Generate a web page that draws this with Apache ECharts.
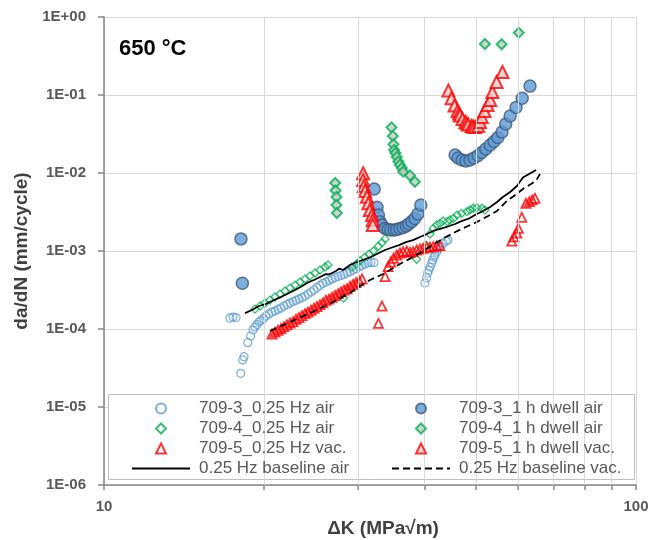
<!DOCTYPE html>
<html><head><meta charset="utf-8">
<script src="https://cdn.jsdelivr.net/npm/echarts@6/dist/echarts.min.js"></script>
<style>html,body{margin:0;padding:0;background:#fff}#c{width:652px;height:540px}</style>
</head><body><div id="c"></div>
<script>
const FONT = '"Liberation Sans", Arial, sans-serif';

// ---- data: [ΔK (MPa√m), da/dN (mm/cycle)] ----
const s709_3_air025 = [
  [17.25,1.38e-4],[17.48,1.42e-4],[17.71,1.40e-4],
  [18.07,2.70e-5],[18.23,4.01e-5],[18.33,4.42e-5],[18.63,6.67e-5],[18.87,8.13e-5],
  [19.06,9.71e-5],[19.22,1.06e-4],[19.39,1.14e-4],[19.56,1.23e-4],[19.73,1.29e-4],[19.95,1.36e-4],[20.16,1.47e-4],[20.43,1.56e-4],[20.69,1.65e-4],[20.96,1.70e-4],
  [21.23,1.78e-4],[21.51,1.86e-4],[21.79,1.97e-4],[22.08,2.06e-4],[22.37,2.15e-4],[22.66,2.25e-4],[22.96,2.33e-4],[23.26,2.42e-4],[23.56,2.53e-4],[23.87,2.65e-4],
  [24.18,2.81e-4],[24.50,2.98e-4],[24.82,3.16e-4],[25.14,3.40e-4],[25.47,3.61e-4],[25.80,3.85e-4],[26.14,4.00e-4],[26.48,4.19e-4],[26.83,4.38e-4],[27.18,4.57e-4],
  [27.54,4.71e-4],[27.90,4.85e-4],[28.26,5.00e-4],[28.63,5.22e-4],[29.01,5.43e-4],[29.39,5.71e-4],[29.77,5.96e-4],[30.16,6.24e-4],[30.55,6.52e-4],[30.95,6.81e-4],
  [31.36,7.02e-4],[31.76,7.12e-4],[32.18,7.08e-4],
  [40.1,3.89e-4],[40.4,4.51e-4],[40.6,5.22e-4],[40.8,5.70e-4],[41.0,6.23e-4],[41.3,7.02e-4],[41.5,7.67e-4],[41.7,8.37e-4],[41.9,8.89e-4],[42.2,9.71e-4],[42.45,1.06e-3],[42.8,1.135e-3],[43.4,1.25e-3],[43.96,1.34e-3],[44.3,1.38e-3]
];
const s709_3_dwell = [
  [18.09,1.43e-3],[18.2,3.85e-4],
  [32.2,6.24e-3],[32.6,3.63e-3],[32.8,2.89e-3],[33.0,2.38e-3],[33.3,2.16e-3],[33.75,1.95e-3],[34.2,1.89e-3],[34.6,1.86e-3],[35.1,1.86e-3],[35.5,1.89e-3],
  [36.0,1.94e-3],[36.5,2.00e-3],[37.0,2.09e-3],[37.4,2.22e-3],[37.9,2.39e-3],[38.4,2.61e-3],[38.9,2.98e-3],[39.4,3.89e-3],
  [45.7,1.70e-2],[46.3,1.56e-2],[47.1,1.47e-2],[47.9,1.43e-2],[48.75,1.47e-2],[49.6,1.56e-2],[50.5,1.68e-2],[51.3,1.83e-2],[52.2,2.03e-2],[53.2,2.29e-2],
  [54.1,2.54e-2],[55.0,2.85e-2],[56.0,3.36e-2],[56.9,4.25e-2],[58.0,5.38e-2],[59.5,6.92e-2],[61.1,9.08e-2],[63.2,1.30e-1]
];
const s709_4_air025 = [
  [19.22,1.80e-4],[19.65,1.97e-4],[20.07,2.15e-4],[20.51,2.35e-4],[20.96,2.57e-4],[21.42,2.81e-4],[21.89,3.07e-4],[22.37,3.35e-4],[22.86,3.66e-4],[23.36,4.00e-4],
  [23.87,4.38e-4],[24.39,4.78e-4],[24.93,5.22e-4],[25.47,5.71e-4],[26.03,6.24e-4],[26.37,6.61e-4],
  [28.2,2.5e-4],
  [29.25,6.23e-4],[29.8,6.8e-4],[30.3,7.5e-4],[30.9,8.3e-4],[31.5,9.1e-4],[32.1,1.0e-3],[32.8,1.15e-3],[33.3,1.28e-3],[33.75,1.43e-3],
  [38.7,7.83e-4],[40.3,1.19e-3],
  [41.0,1.65e-3],[41.6,1.95e-3],[42.2,2.16e-3],[42.8,2.26e-3],[43.4,2.43e-3],[44.2,2.38e-3],[44.7,2.50e-3],[45.4,2.62e-3],[46.1,2.89e-3],[47.0,3.04e-3],
  [48.1,3.19e-3],[48.75,3.36e-3],[49.45,3.53e-3],[50.2,3.59e-3],[51.3,3.53e-3],[52.0,3.36e-3]
];
const s709_4_dwell = [
  [27.2,7.45e-3],[27.25,5.97e-3],[27.35,4.92e-3],[27.35,3.89e-3],[27.4,3.07e-3],
  [34.7,3.85e-2],[34.9,2.98e-2],[35.0,2.33e-2],[35.1,1.97e-2],[35.3,1.80e-2],[35.5,1.60e-2],[35.75,1.40e-2],[36.0,1.27e-2],[36.3,1.16e-2],[36.5,1.04e-2],[37.6,9.29e-3],[38.4,7.73e-3],
  [52.0,0.451],[55.9,0.447],[60.2,0.629]
];
const s709_5_vac025 = [
  [20.69,8.63e-5],[20.96,9.10e-5],[21.23,9.62e-5],[21.51,1.015e-4],[21.79,1.07e-4],[22.08,1.13e-4],[22.37,1.19e-4],[22.66,1.24e-4],[22.96,1.33e-4],[23.26,1.40e-4],
  [23.56,1.48e-4],[23.87,1.57e-4],[24.18,1.65e-4],[24.50,1.74e-4],[24.82,1.84e-4],[25.14,1.94e-4],[25.47,2.05e-4],[25.80,2.17e-4],[26.14,2.33e-4],[26.48,2.41e-4],
  [26.83,2.55e-4],[27.18,2.69e-4],[27.54,2.84e-4],[27.90,3.00e-4],[28.26,3.16e-4],[28.63,3.28e-4],[29.01,3.53e-4],[29.39,3.72e-4],[29.77,3.92e-4],[30.16,4.15e-4],[30.55,4.38e-4],
  [32.8,1.18e-4],[33.3,1.97e-4],
  [33.75,4.69e-4],[34.2,6.29e-4],[34.6,7.2e-4],[35.0,8.06e-4],[35.5,8.89e-4],[36.0,9.42e-4],[36.5,9.8e-4],[37.07,1.0e-3],[37.6,9.6e-4],[38.1,9.8e-4],
  [38.7,1.03e-3],[39.26,1.06e-3],[39.8,1.08e-3],[40.4,1.11e-3],[41.0,1.12e-3],[41.6,1.135e-3],[42.2,1.16e-3],[42.8,1.17e-3],
  [58.4,1.34e-3],[59.0,1.52e-3],[59.7,1.69e-3],[60.1,1.95e-3],[61.0,2.70e-3],[62.1,4.09e-3],[63.0,4.29e-3],[63.8,4.51e-3],[64.6,4.74e-3]
];
const s709_5_dwell = [
  [30.7,9.91e-3],[30.7,8.13e-3],[30.8,6.81e-3],[30.95,5.87e-3],[31.2,4.96e-3],[31.4,4.09e-3],[31.6,3.36e-3],[31.9,2.89e-3],[32.0,2.50e-3],[32.0,2.16e-3],
  [44.4,0.114],[45.0,9.08e-2],[45.6,7.33e-2],[46.2,6.23e-2],[46.5,5.8e-2],[46.7,5.46e-2],[47.2,4.92e-2],[47.8,4.51e-2],[48.1,4.3e-2],[48.4,4.19e-2],[49.1,4.01e-2],[49.4,3.95e-2],
  [49.8,3.89e-2],[50.5,4.01e-2],[50.9,4.51e-2],[51.3,5.22e-2],[51.9,6.23e-2],[52.6,7.44e-2],[53.2,8.63e-2],[53.7,0.109],[54.7,0.147],[56.1,0.197]
];
const baselineAir = [
  [18.41,1.60e-4],[18.97,1.75e-4],[19.56,1.97e-4],[20.16,2.10e-4],[20.78,2.32e-4],[21.42,2.54e-4],[22.08,2.81e-4],[22.76,3.12e-4],[23.46,3.48e-4],[24.17,3.95e-4],
  [24.93,4.31e-4],[25.69,4.78e-4],[26.1,5.05e-4],[26.48,5.0e-4],[27.30,5.55e-4],[27.7,5.95e-4],[28.14,5.7e-4],[29.0,6.62e-4],[29.89,7.23e-4],[30.81,7.78e-4],
  [31.76,8.38e-4],[32.73,9.29e-4],[33.75,1.03e-3],[34.78,1.11e-3],[35.85,1.19e-3],[36.96,1.30e-3],[38.09,1.38e-3],[39.26,1.51e-3],[40.47,1.65e-3],[41.72,1.83e-3],
  [43.0,1.94e-3],[44.33,2.06e-3],[45.69,2.22e-3],[47.1,2.43e-3],[48.55,2.61e-3],[50.0,2.94e-3],[51.58,3.26e-3],[53.2,3.67e-3],[54.8,4.25e-3],[56.2,4.92e-3],
  [58.0,5.71e-3],[59.73,6.81e-3],[61.3,8.75e-3],[63.2,9.86e-3],[64.9,1.09e-2]
];
const baselineVac = [
  [20.51,9.42e-5],[22.37,1.23e-4],[24.39,1.60e-4],[26.59,2.12e-4],[29.0,2.90e-4],[29.89,3.36e-4],[31.62,4.25e-4],[33.46,5.07e-4],[36.0,6.81e-4],[38.09,8.38e-4],
  [40.3,1.05e-3],[42.3,1.30e-3],[44.1,1.53e-3],[46.1,1.80e-3],[48.1,2.06e-3],[50.2,2.35e-3],[52.5,2.77e-3],[54.8,3.26e-3],[57.2,4.38e-3],[59.3,5.23e-3],
  [61.3,6.24e-3],[63.5,7.23e-3],[64.9,8.01e-3],[66.0,9.71e-3]
];
const xGridValues = [20,30,40,50,60,70,80,90];
const xTickValues = [10,20,30,40,50,60,70,80,90,100];
const xLabelValues = [10,100];
const legendLeft = ['709-3_0.25 Hz air','709-4_0.25 Hz air','709-5_0.25 Hz vac.','0.25 Hz baseline air'];
const legendRight = ['709-3_1 h dwell air','709-4_1 h dwell air','709-5_1 h dwell vac.','0.25 Hz baseline vac.'];

const DIAMOND = 'path://M5,0 L10,5 L5,10 L0,5 Z';
const TRIANGLE = 'path://M5,0 L10,10 L0,10 Z';
const legendIcons = {
  '709-3_0.25 Hz air':{icon:'circle'},
  '709-3_1 h dwell air':{icon:'circle'},
  '709-4_0.25 Hz air':{icon:DIAMOND},
  '709-4_1 h dwell air':{icon:DIAMOND},
  '709-5_0.25 Hz vac.':{icon:TRIANGLE},
  '709-5_1 h dwell vac.':{icon:TRIANGLE},
  '0.25 Hz baseline air':{itemStyle:{color:'rgba(0,0,0,0)', borderColor:'rgba(0,0,0,0)', borderWidth:0}},
  '0.25 Hz baseline vac.':{itemStyle:{color:'rgba(0,0,0,0)', borderColor:'rgba(0,0,0,0)', borderWidth:0}}
};
function legendItems(names){
  return names.map(n => Object.assign({name:n}, legendIcons[n]));
}

const chart = echarts.init(document.getElementById('c'), null, {renderer:'canvas'});
const axisGray = '#868686';
const legendCommon = {
  orient:'vertical', top:395, itemWidth:58, itemHeight:10, itemGap:3, z:10,
  symbolKeepAspect:true,
  textStyle:{fontFamily:FONT, fontSize:17, color:'#595959', padding:[0,0,0,4]},
  selectedMode:false
};
chart.setOption({
  animation:false,
  backgroundColor:'#fff',
  textStyle:{fontFamily:FONT},
  title:{text:'650 °C', left:119, top:38, padding:0,
    textStyle:{fontFamily:FONT, fontSize:22, fontWeight:'bold', color:'#000'}},
  grid:{left:104, right:16, top:17, bottom:55, outerBoundsMode:'none', containLabel:false},
  xAxis:{type:'log', logBase:10, min:10, max:100,
    name:'ΔK (MPa√m)', nameLocation:'middle', nameGap:23,
    nameTextStyle:{fontFamily:FONT, fontSize:19, fontWeight:'bold', color:'#404040', padding:[0,0,0,26]},
    axisLine:{show:true, onZero:false, lineStyle:{color:axisGray, width:1.5}},
    axisTick:{show:true, length:5, customValues:xTickValues, lineStyle:{color:axisGray, width:1.5}},
    axisLabel:{customValues:xLabelValues, fontFamily:FONT, fontSize:15, fontWeight:'bold', color:'#595959', margin:14},
    splitLine:{show:true, lineStyle:{color:'#d9d9d9', width:1}},
    minorTick:{show:false}, minorSplitLine:{show:false}},
  yAxis:{type:'log', logBase:10, min:1e-6, max:1,
    name:'da/dN (mm/cycle)', nameLocation:'middle', nameGap:73, nameRotate:90,
    nameTextStyle:{fontFamily:FONT, fontSize:19, fontWeight:'bold', color:'#404040'},
    axisLine:{show:true, onZero:false, lineStyle:{color:axisGray, width:1.5}},
    axisTick:{show:true, length:6, lineStyle:{color:axisGray, width:1.5}},
    axisLabel:{fontFamily:FONT, fontSize:15, fontWeight:'bold', color:'#595959', margin:18,
      formatter:function(v){const e=Math.round(Math.log10(v));return '1E'+(e<0?'-':'+')+String(Math.abs(e)).padStart(2,'0');}},
    splitLine:{show:true, lineStyle:{color:'#d9d9d9', width:1}},
    minorTick:{show:false}, minorSplitLine:{show:false}},
  legend:[
    Object.assign({left:126, data:legendItems(legendLeft)}, legendCommon),
    Object.assign({left:386, data:legendItems(legendRight)}, legendCommon)
  ],
  graphic:[{type:'rect', left:108, top:394, z:5, silent:true,
    shape:{width:526, height:85}, style:{fill:'#fff', stroke:'#bfbfbf', lineWidth:1}}],
  series:[
    {type:'line', name:'grid', data:[], silent:true, z:1,
      markLine:{silent:true, symbol:['none','none'], label:{show:false}, animation:false,
        lineStyle:{color:'#d9d9d9', type:'solid', width:1},
        data:xGridValues.map(v=>({xAxis:v}))}},
    {type:'scatter', name:'709-3_0.25 Hz air', data:s709_3_air025, symbol:'circle', symbolSize:8,
      itemStyle:{color:'rgba(255,255,255,0)', borderColor:'#5b9bd5', borderWidth:1.2}},
    {type:'scatter', name:'709-3_1 h dwell air', data:s709_3_dwell, symbol:'circle', symbolSize:12,
      itemStyle:{color:'#5b9bd5', borderColor:'#41587a', borderWidth:1.5}},
    {type:'scatter', name:'709-4_0.25 Hz air', data:s709_4_air025, symbol:'diamond', symbolSize:8,
      itemStyle:{color:'rgba(255,255,255,0)', borderColor:'#00b050', borderWidth:1.3}},
    {type:'scatter', name:'709-4_1 h dwell air', data:s709_4_dwell, symbol:'diamond', symbolSize:10,
      itemStyle:{color:'#c8c8c8', borderColor:'#00b050', borderWidth:2}},
    {type:'scatter', name:'709-5_0.25 Hz vac.', data:s709_5_vac025, symbol:'triangle', symbolSize:9,
      itemStyle:{color:'rgba(255,255,255,0)', borderColor:'#ff0000', borderWidth:1.8}},
    {type:'scatter', name:'709-5_1 h dwell vac.', data:s709_5_dwell, symbol:'triangle', symbolSize:12,
      itemStyle:{color:'#f2cece', borderColor:'#ff0000', borderWidth:2}},
    {type:'line', name:'0.25 Hz baseline air', data:baselineAir, showSymbol:false, symbol:'none',
      lineStyle:{color:'#000', width:1.75}, itemStyle:{color:'#000'}},
    {type:'line', name:'0.25 Hz baseline vac.', data:baselineVac, showSymbol:false, symbol:'none',
      lineStyle:{color:'#000', width:1.75, type:[7,4]}, itemStyle:{color:'#000'}}
  ]
});
</script>
</body></html>
